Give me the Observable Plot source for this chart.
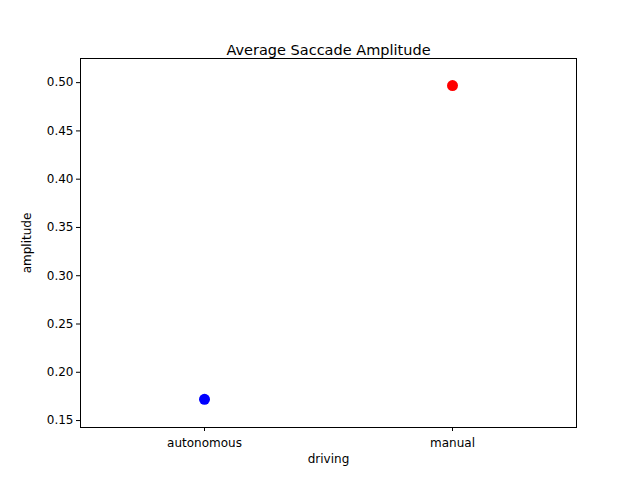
<!DOCTYPE html>
<html>
<head>
<meta charset="utf-8">
<script src="https://cdn.jsdelivr.net/npm/d3@7"></script>
<script src="https://cdn.jsdelivr.net/npm/@observablehq/plot@0.6"></script>
<style>
  body { margin: 0; background: white; }
</style>
</head>
<body>
<div id="chart"></div>
<script>
const driving = ["autonomous", "manual"]
const amplitude = [0.172, 0.497]
const colors = ["#0000ff", "#ff0000"]
const yTicks = [0.15, 0.20, 0.25, 0.30, 0.35, 0.40, 0.45, 0.50]

const data = driving.map((d, i) => ({ driving: d, amplitude: amplitude[i], color: colors[i] }))

let chart = Plot.plot({
    width: 640,
    height: 480,
    marginLeft: 80,
    marginRight: 64,
    marginTop: 58,
    marginBottom: 53,
    style: { fontFamily: "DejaVu Sans", fontSize: "12px", background: "white" },
    x: { type: "point", domain: driving, padding: 0.5, label: null },
    y: { domain: [0.1428, 0.525], ticks: yTicks, tickFormat: d3.format(".2f"), label: null },
    marks: [
        Plot.frame({ stroke: "black" }),
        Plot.axisX({ tickSize: 4, tickPadding: 7, fontSize: 12, label: null }),
        Plot.axisY({ ticks: yTicks, tickFormat: d3.format(".2f"), tickSize: 4, tickPadding: 3, fontSize: 12, label: null }),
        Plot.dot(data, { x: "driving", y: "amplitude", fill: "color", r: 5.5 }),
        Plot.text(["Average Saccade Amplitude"], { frameAnchor: "top", dy: -14, fontSize: 14.5, fill: "black" }),
        Plot.text(["driving"], { frameAnchor: "bottom", dy: 35, fontSize: 12, fill: "black" }),
        Plot.text(["amplitude"], { frameAnchor: "left", textAnchor: "middle", dx: -53, rotate: -90, fontSize: 12, fill: "black" })
    ]
})

d3.select('#chart').append(() => chart)
</script>
</body>
</html>
